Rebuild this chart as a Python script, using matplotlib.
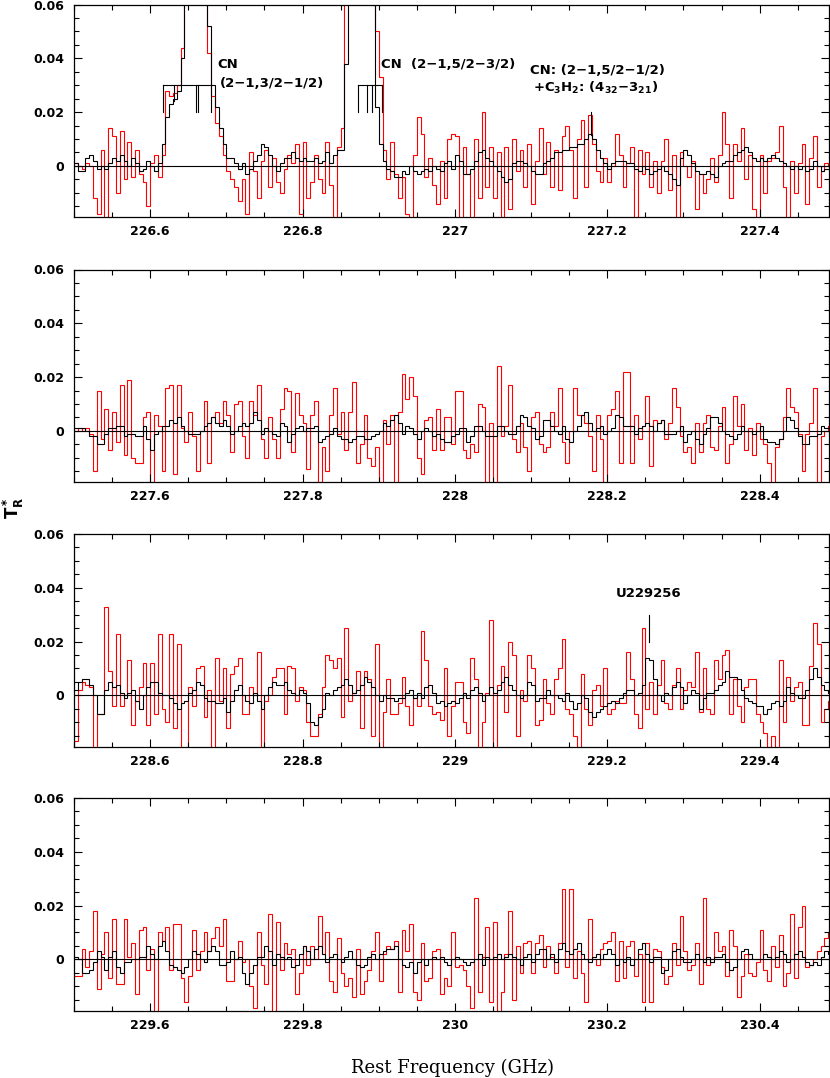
import numpy as np
import matplotlib
matplotlib.use("Agg")
import matplotlib.pyplot as plt
from matplotlib.ticker import MultipleLocator, FuncFormatter

plt.rcParams['font.family'] = 'DejaVu Sans'
plt.rcParams['mathtext.fontset'] = 'dejavusans'
plt.rcParams['mathtext.default'] = 'bf'

# panel start frequencies (GHz), channel width 5 MHz, 200 channels per panel
starts = [226.5, 227.5, 228.5, 229.5]
chan = 0.005
span = 0.991

# antenna temperatures in mK (values > 60 are clipped lines)
p1_red = [1, 0, -1, 1, 0, -12, -18, 6, -22, 14,
          11, -10, 13, -5, 9, -4, 6, -3, -6, -15,
          1, 4, -4, 4, 28, 26, 27, 30, 44, 90,
          90, 90, 90, 90, 90, 42, 26, 16, 11, 4,
          -2, -5, -8, -13, -5, -18, 5, -2, -12, 2,
          6, -8, 3, -6, -10, -1, 4, 1, 8, -18,
          9, -12, -6, 4, -5, -10, 9, -7, -20, 7,
          14, 90, 90, 90, 90, 90, 90, 90, 90, 50,
          33, 6, -5, 9, -3, -12, -4, -18, -20, 4,
          18, 12, -4, 3, -7, -14, 2, -12, 10, 12,
          11, -20, 7, -3, -20, 10, -12, 20, -8, 7,
          -12, 5, -20, 7, -16, 10, -2, 6, -8, 8,
          -14, 2, 14, -3, 9, -8, 6, -9, 11, 15,
          6, -12, 10, 17, -8, 19, 8, -2, -6, 3,
          -6, 0, 12, 4, -8, 1, 7, -20, 6, -3,
          5, -8, 2, -10, 2, 10, -9, 4, -20, 5,
          0, -4, 2, -16, -3, -10, -5, 3, -6, 4,
          20, 8, -12, 8, 2, 14, -5, 4, -16, -20,
          4, -10, 2, 3, 5, 15, -8, -20, 2, -10,
          1, 8, -14, 3, 11, -8, -2, 1, 0, -1]
p1_blk = [1, -2, -2, 3, 4, 2, -1, 0, -1, 1,
          3, 2, 4, 2, 0, 3, 1, -2, -1, 2,
          0, -2, 1, 8, 18, 23, 25, 28, 40, 90,
          90, 90, 90, 90, 90, 52, 30, 22, 14, 8,
          3, 3, 1, -1, 1, -3, -1, 2, 4, 8,
          7, 4, 0, -2, 1, 3, 3, 5, 3, 2,
          3, 2, 2, 3, 1, 2, 5, 1, 4, 6,
          6, 38, 90, 90, 90, 90, 90, 90, 60, 22,
          8, 2, -1, -2, -4, -4, -2, -3, 0, -2,
          -3, -2, -1, -2, 0, -1, -2, 1, 2, -1,
          4, 2, -3, -3, -1, 2, 5, 6, 3, 2,
          0, -2, -4, -6, -5, 1, 2, 2, 1, 0,
          -2, -3, -3, 1, 2, 3, 5, 5, 6, 6,
          7, 7, 8, 8, 10, 12, 10, 6, 3, 1,
          -1, 1, 2, 2, 2, 1, 1, -1, -2, 0,
          -1, -3, -2, -1, 0, -2, -3, -5, -7, 3,
          6, 4, 1, -2, -3, -3, -2, -3, -4, 0,
          1, 2, 2, 4, 5, 6, 7, 5, 3, 2,
          3, 2, 3, 4, 3, 2, 1, 0, -1, 0,
          -1, 0, -2, -1, 2, 0, -2, -1, -1, 0]

p2_red = [0, 1, 0, 1, -1, -15, 15, -3, 8, -7,
          7, -4, 17, -9, 19, -10, -12, -12, 5, 7,
          -20, 6, 2, -15, 16, 17, -16, 17, 1, -4,
          7, -2, -15, 0, 11, -12, 5, 7, 3, 11,
          6, -8, 10, 11, -2, -10, 11, 6, 17, -3,
          -10, 5, -3, -10, 8, 16, 15, -8, 14, 6,
          3, -14, 6, 11, -20, -6, -15, 6, 16, -1,
          7, -7, 7, 18, -12, -5, 6, -10, -13, -6,
          -22, 4, -5, 6, -20, 7, 21, 12, 20, 13,
          -10, -16, 4, 5, -7, 8, -7, 5, 5, -5,
          15, 15, -7, -10, -5, -8, 10, 9, -20, 3,
          -20, 24, -2, 2, 17, -3, -8, 3, -6, -15,
          5, 7, -5, -8, -6, 7, 2, 16, -4, -12,
          0, 16, 6, 6, 3, -2, -15, 6, -3, -20,
          6, 8, 15, -12, 22, 22, -12, 6, -3, 2,
          13, -13, 4, 3, 4, -3, 3, 16, 9, -2,
          -8, -6, -12, 3, -8, 3, 6, -6, -7, 2,
          9, -12, -5, 13, 2, 10, -7, 1, -9, 3,
          -3, -5, -12, -20, -6, -3, 5, 16, 9, 7,
          -1, -15, -1, 3, 16, -20, -2, 0, 2, 0]
p2_blk = [1, 1, 1, 0, -2, -2, -5, -5, -1, 1,
          1, 2, 2, -2, -1, -1, -2, -2, 2, -3,
          -7, -1, 0, 2, 2, 4, 3, 5, 2, 0,
          -1, -1, -1, 0, 2, 3, 5, 3, 2, 4,
          2, -1, 0, 2, 3, 2, 3, 7, 4, -1,
          1, 0, -1, -2, 3, 2, -4, -1, 1, 2,
          0, 1, 1, 2, -4, -3, -2, -1, 1, -2,
          -3, -3, -4, -3, -2, -2, -3, -3, -2, -1,
          0, 3, 2, 4, 6, 3, -1, 2, 1, -1,
          -3, 0, 1, 0, -2, -1, -3, -4, -4, -2,
          -1, 1, 1, -4, -2, 2, 2, 0, -2, -2,
          -2, 2, 2, 0, -1, -1, 2, 6, 5, 2,
          1, -3, -2, 4, 4, 2, 0, -1, 2, -3,
          -4, 0, 2, 6, 7, 3, 0, 1, 2, -1,
          0, 1, 6, 5, 2, 2, 2, -1, 1, 2,
          3, 2, 0, 3, 4, -1, -1, -1, 0, 2,
          -4, -1, 0, -3, -5, -1, 1, 5, 5, 3,
          0, -1, -2, -3, -1, 2, 0, 0, -1, 0,
          2, -3, -4, -4, -5, -3, 0, 5, 4, 1,
          -2, -5, -5, -2, -2, -1, 2, 1, 1, 0]

p3_red = [-17, 2, 5, 4, 3, -20, -7, -7, 33, 9,
          -4, 23, -4, 0, 13, -11, -2, 3, 12, -11,
          12, -7, 23, -5, -10, 23, -12, 19, -20, -20,
          3, -4, 10, 11, -8, 2, -20, 14, -2, 10,
          -12, 8, 11, 14, -7, -7, 3, 0, 16, -20,
          -2, 0, 7, 10, 10, -7, 11, 10, -2, 3,
          2, -10, -15, -15, -7, 3, 15, 13, 10, 14,
          -8, 25, -2, 1, 9, -12, 9, 6, -15, 19,
          -20, -6, 6, -7, -7, -3, 7, -4, -11, -1,
          -4, 24, 13, -4, -7, -6, -9, 10, -15, -4,
          5, 5, -10, -14, 14, 6, -20, -10, 1, 28,
          -20, 4, 11, -6, 20, 15, -15, 2, -2, 15,
          10, -11, -9, 6, -3, -7, 6, 10, 21, -5,
          -7, -15, -20, 8, -5, -11, 2, 4, -4, 10,
          -7, -5, -2, -3, -3, 16, 6, -7, -12, 25,
          -5, 5, -7, 4, 13, -3, -5, 4, 10, -5,
          2, 5, 3, 16, -6, 10, -5, -7, 13, 6,
          15, 17, -7, 6, -4, -10, 3, 6, 6, -7,
          -10, -14, -20, -15, -20, 13, -10, 7, -2, 3,
          5, -11, -11, 11, 27, 19, -10, -5, -2, -2]
p3_blk = [2, 5, 6, 6, 4, 0, -7, -7, 2, 5,
          3, 4, 1, -1, 1, 2, -2, -5, 0, 3,
          5, 5, 1, 0, 0, -1, -3, -5, -3, -2,
          1, 2, 5, 4, -1, -2, -2, -3, -3, -1,
          -6, -2, 2, 4, 0, -2, -3, 1, -2, -5,
          0, 3, 5, 4, 4, 5, 2, 1, 0, 2,
          1, -3, -10, -11, -8, -5, 1, 0, 2, 3,
          4, 6, 4, 1, 2, 4, 7, 5, 3, 0,
          -2, 0, -1, -1, -2, -1, -1, 1, 2, -1,
          1, -1, 3, 4, 1, -3, -2, -4, -3, -2,
          -3, -1, 1, -1, 2, 3, 1, -2, 0, 3,
          1, 2, 5, 7, 4, 2, 0, -1, 0, 5,
          4, -2, -1, -1, 2, 0, 0, -1, -2, 1,
          -2, -5, -3, 0, -1, -6, -8, -6, -5, -4,
          -3, -2, -3, -1, 1, 2, 2, 0, 1, 4,
          14, 13, 6, 0, -2, 1, 0, 3, 5, 3,
          -3, 0, 2, 1, -5, -1, 1, 1, 2, 4,
          5, 9, 7, 7, 6, 2, -1, -2, -3, -4,
          -4, -7, -5, -3, -2, -4, -2, 3, 1, 0,
          -1, -1, 2, 6, 10, 7, 4, 2, 1, 0]

p4_red = [-6, -6, 4, -3, 3, 18, -11, 2, 10, -7,
          15, -9, -9, 15, 1, 6, -13, 11, 12, -4,
          4, -20, 10, 7, 12, -4, 13, 13, -7, -16,
          -6, 11, -4, 3, 10, 3, 8, 12, 5, 15,
          -8, -8, 0, 7, -1, 0, -10, -18, 10, -2,
          -9, 17, -20, 14, -4, 6, 2, 4, -13, -5,
          5, -2, 5, 0, 16, 2, 10, -8, -12, 8,
          -5, -10, -7, -14, 4, -13, -8, -4, 3, 10,
          -8, 2, 5, 4, 7, -12, 11, 3, 13, -12,
          -15, 6, -8, -7, 3, 4, -13, -7, -10, 10,
          -3, -2, -4, -10, -18, 23, -12, 1, 12, -16,
          14, -20, -12, 2, 18, -15, 5, -5, 6, 7,
          -5, 6, 9, -3, 5, 1, -5, 6, 26, -3,
          26, -7, 3, -5, -16, 15, 0, -2, 4, 6,
          7, 10, -8, 7, -7, 5, 7, -6, 2, -16,
          6, -16, 4, 3, -3, -9, -6, 6, -2, 16,
          3, -4, -2, 6, -9, 23, -2, 0, 10, 3,
          5, -6, 11, 5, -14, -6, 2, -5, -6, -1,
          11, -4, -8, 5, -3, 9, -10, -5, 17, -7,
          12, 20, -3, -2, 0, 3, 5, 8, 10, 12]
p4_blk = [1, 0, -5, -5, -4, -1, 3, 1, -4, 1,
          3, -3, -5, -1, -1, 0, 0, 1, 1, 5,
          2, 0, 5, 7, 3, -2, -3, -4, -5, -3,
          0, 3, 2, 0, -1, 3, 5, 3, -2, -2,
          -1, 3, 0, 1, -5, -9, -5, -2, 1, 1,
          5, 3, -2, 2, 1, 0, 1, -3, -2, 2,
          5, 3, 0, 4, 5, 2, -1, 1, 2, 0,
          -1, 1, 3, 0, -2, -3, -2, 1, 2, 0,
          2, 3, 4, 4, 5, 0, -2, -3, -1, -5,
          -1, 0, -2, 0, 1, 0, 1, -1, -2, 0,
          1, 0, -1, -2, -1, 0, 2, -2, 1, 0,
          1, 2, 0, 1, 2, 1, 0, -2, 1, 2,
          -1, 2, 4, 4, 0, 2, -1, 4, 6, 3,
          2, 4, 6, 2, 0, -1, 1, 2, 0, 2,
          4, 2, -2, 0, -1, 1, -2, 0, 4, 6,
          2, -1, 1, 1, -5, -4, 0, 3, 4, 1,
          -1, -1, 0, 2, 0, -1, 1, -1, 1, 1,
          2, -1, -4, -3, 0, 3, 4, 2, 0, 0,
          0, 2, 1, 0, 1, 3, 2, -1, 0, 2,
          3, 1, -1, -2, -1, -2, 1, 3, 2, 1]

reds = [p1_red, p2_red, p3_red, p4_red]
blacks = [p1_blk, p2_blk, p3_blk, p4_blk]

# hyperfine components (GHz) and tick bottoms (K)
cn1_freq = [226.6166, 226.6316, 226.6595, 226.6632, 226.6793]
cn1_low = [0.020, 0.024, 0.020, 0.020, 0.020]
cn2_freq = [226.873, 226.885, 226.891, 226.904]
cn2_low = [0.020, 0.020, 0.020, 0.020]

fig = plt.figure(figsize=(8.3, 10.78), dpi=100)
W, H = 830.0, 1078.0
tops = [4.5, 269.5, 534.0, 798.0]
ph = 212.5

tickfont = dict(family='DejaVu Sans', weight='bold', size=9)
txt = dict(fontsize=9.5, fontweight='bold', va='center', ha='left')

axes = []
for k in range(4):
    ax = fig.add_axes([74 / W, 1 - (tops[k] + ph) / H, 755 / W, ph / H])
    axes.append(ax)
    edges = starts[k] + chan * np.arange(201)
    ax.stairs(np.array(reds[k]) / 1000.0, edges, baseline=None,
              color='#ff0000', lw=0.8)
    ax.stairs(np.array(blacks[k]) / 1000.0, edges, baseline=None,
              color='black', lw=0.8)
    ax.axhline(0, color='black', lw=0.8)
    ax.set_xlim(starts[k], starts[k] + span)
    ax.set_ylim(-0.019, 0.06)

    ax.xaxis.set_major_locator(MultipleLocator(0.2))
    ax.xaxis.set_minor_locator(MultipleLocator(0.05))
    ax.yaxis.set_major_locator(MultipleLocator(0.02))
    ax.yaxis.set_minor_locator(MultipleLocator(0.005))
    ax.xaxis.set_major_formatter(FuncFormatter(lambda v, p: f'{round(v, 3):g}'))
    ax.yaxis.set_major_formatter(FuncFormatter(lambda v, p: f'{round(v, 3):g}'))
    ax.tick_params(which='both', direction='in', top=True, right=True, width=0.8)
    ax.tick_params(which='major', length=6)
    ax.tick_params(which='minor', length=3.5)
    ax.tick_params(axis='x', pad=6)
    ax.tick_params(axis='y', pad=7)
    for lab in ax.get_xticklabels() + ax.get_yticklabels():
        lab.set_fontproperties(tickfont)
    for s in ax.spines.values():
        s.set_linewidth(0.9)

# line identifications
ax = axes[0]
for f, lo in zip(cn1_freq, cn1_low):
    ax.plot([f, f], [lo, 0.030], color='black', lw=0.8)
ax.plot([cn1_freq[0], cn1_freq[-1]], [0.030, 0.030], color='black', lw=0.8)
for f, lo in zip(cn2_freq, cn2_low):
    ax.plot([f, f], [lo, 0.030], color='black', lw=0.8)
ax.plot([cn2_freq[0], cn2_freq[-1]], [0.030, 0.030], color='black', lw=0.8)
ax.plot([227.1785, 227.1785], [0.0115, 0.020], color='black', lw=0.8)
ax.text(226.6886, 0.0378, 'CN', **txt)
ax.text(226.6910, 0.0305, '(2\u22121,3/2\u22121/2)', **txt)
ax.text(226.9025, 0.0378, 'CN  (2\u22121,5/2\u22123/2)', **txt)
ax.text(227.0984, 0.0355, 'CN: (2\u22121,5/2\u22121/2)', **txt)
ax.text(227.1024, 0.0289, '+C$_3$H$_2$: (4$_{32}$\u22123$_{21}$)', **txt)

ax = axes[2]
ax.plot([229.2545, 229.2545], [0.020, 0.030], color='black', lw=0.8)
ax.text(229.2545, 0.0378, 'U229256', fontsize=9.5, fontweight='bold',
        va='center', ha='center')

fig.text(452 / W, 1 - 1068 / H, 'Rest Frequency (GHz)', family='DejaVu Serif',
         fontsize=13, ha='center', va='center')
fig.text(13 / W, 1 - 508 / H, r'$\mathbf{T_R^*}$', fontsize=12, rotation=90,
         ha='center', va='center')

fig.savefig('out.png', dpi=100)
